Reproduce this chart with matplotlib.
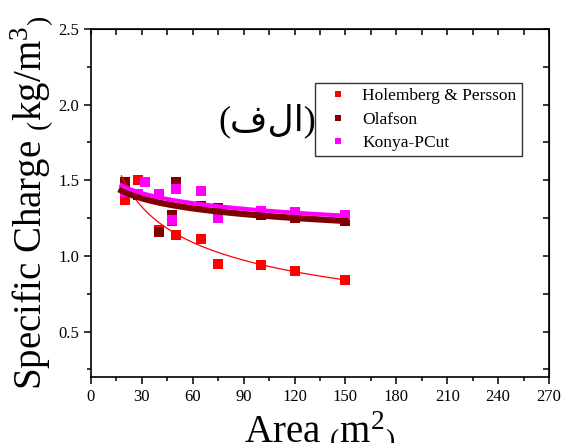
# Specific charge vs area - three empirical methods
import matplotlib
matplotlib.use('Agg')
import matplotlib.pyplot as plt
import numpy as np
from matplotlib.ticker import MultipleLocator

plt.rcParams['font.family'] = ['Liberation Serif', 'DejaVu Sans']
plt.rcParams['mathtext.fontset'] = 'custom'
plt.rcParams['mathtext.rm'] = 'Liberation Serif'
plt.rcParams['mathtext.it'] = 'Liberation Serif'

# Data
area_holemberg = [20, 28, 40, 48, 50, 65, 75, 100, 120, 150]
charge_holemberg = [1.37, 1.50, 1.17, 1.23, 1.14, 1.11, 0.95, 0.94, 0.90, 0.84]

area_olafson = [20, 28, 40, 48, 50, 65, 75, 100, 120, 150]
charge_olafson = [1.49, 1.40, 1.16, 1.27, 1.49, 1.33, 1.32, 1.27, 1.25, 1.23]

area_konya = [20, 28, 32, 40, 48, 50, 65, 75, 100, 120, 150]
charge_konya = [1.42, 1.41, 1.49, 1.41, 1.24, 1.44, 1.43, 1.25, 1.30, 1.29, 1.27]

series_names = ['Holemberg & Persson', 'Olafson', 'Konya-PCut']
series_colors = ['#ff0000', '#800000', '#ff00ff']
fit_widths = [0.9, 4.5, 3.0]


def power_fit(x, y):
    # y = a * x^b ajustado em log-log
    b, loga = np.polyfit(np.log(x), np.log(y), 1)
    xs = np.linspace(18, 150, 200)
    return xs, np.exp(loga) * xs ** b


fig = plt.figure(figsize=(5.64, 4.43), dpi=100)
ax = fig.add_axes([0.1613, 0.149, 0.8121, 0.7855])

datasets = [(area_holemberg, charge_holemberg),
            (area_olafson, charge_olafson),
            (area_konya, charge_konya)]

for (x, y), nome, cor in zip(datasets, series_names, series_colors):
    ax.plot(x, y, 's', color=cor, markersize=6.5, markeredgewidth=0, label=nome)
for (x, y), cor, lw in zip(datasets, series_colors, fit_widths):
    xs, ys = power_fit(np.array(x, float), np.array(y, float))
    ax.plot(xs, ys, '-', color=cor, linewidth=lw)

ax.set_xlim(0, 270)
ax.set_ylim(0.2, 2.5)
ax.xaxis.set_major_locator(MultipleLocator(30))
ax.xaxis.set_minor_locator(MultipleLocator(15))
ax.yaxis.set_major_locator(MultipleLocator(0.5))
ax.yaxis.set_minor_locator(MultipleLocator(0.25))

ax.tick_params(which='both', direction='out', top=False, right=False, labelsize=12, width=1.1)
ax.tick_params(which='major', length=5)
ax.tick_params(which='minor', length=3)
ax2 = ax.secondary_xaxis('top')
ax2.xaxis.set_major_locator(MultipleLocator(15))
ax2.tick_params(direction='in', length=4, labeltop=False, width=1.1)
ax3 = ax.secondary_yaxis('right')
ax3.yaxis.set_major_locator(MultipleLocator(0.25))
ax3.tick_params(direction='in', length=4, labelright=False, width=1.1)
for s in ax.spines.values():
    s.set_linewidth(1.2)

ax.set_xlabel(r'Area $_{(}$m$^{2}$$_{)}$', fontsize=28, labelpad=3)
ax.set_ylabel(r'Specific Charge $_{(}$kg/m$^{3}$$_{)}$', fontsize=28, labelpad=2)

# rotulo (الف) em ordem visual
ax.text(104, 1.89, '(\u0641\u0644\u0627)', fontsize=26, ha='center', va='center',
        family=['Liberation Serif', 'DejaVu Sans'])

leg = ax.legend(loc='upper left', bbox_to_anchor=(0.489, 0.845), borderaxespad=0,
                fontsize=12.5, frameon=True, fancybox=False, edgecolor='black',
                markerscale=0.7, handlelength=2.0, handletextpad=0.43,
                borderpad=0.3, labelspacing=0.42)
leg.get_frame().set_linewidth(1.0)

fig.savefig('out.png', dpi=100)
